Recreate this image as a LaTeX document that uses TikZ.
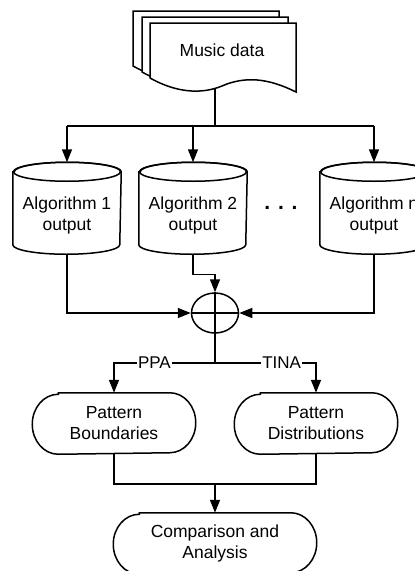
\documentclass[tikz,border=0pt]{standalone}
\usepackage{fontspec}
\setmainfont{Liberation Sans}
\usetikzlibrary{arrows.meta,shapes.geometric,calc}
\begin{document}
\begin{tikzpicture}[x=1pt,y=-1pt,
  line width=1.5pt,
  arr/.style={-{Triangle[length=13pt,width=10pt]}},
  txt/.style={font=\fontsize{17.5}{21}\selectfont, align=center},
  cyl/.style={txt, minimum width=107pt, minimum height=76pt, inner sep=0pt},
  term/.style={txt, minimum width=162pt, minimum height=60pt, inner sep=0pt},
  page/.style={draw, fill=white, line join=miter},
  lbl/.style={fill=white, inner sep=1pt, font=\fontsize{17}{20}\selectfont}]
\useasboundingbox (0,0) rectangle (415,571);
\clip (0,0) rectangle (415,571);
% multi-document
\foreach \dx/\dy in {-17/-12, -8/-6, 0/0} {
  \draw[page, shift={(\dx,\dy)}] (150,78) -- (150,23) -- (296,23) -- (296,92)
    .. controls (268,78) and (245,76) .. (222,86)
    .. controls (200,95) and (175,92) .. (150,78) -- cycle;
}
\node[txt] (md) at (222,50) {Music data};
\coordinate (mdb) at (215,88);
\coordinate (bus) at (215,126);
% cylinders (text sits in the body below the cap)
\node[cyl] (a1) at (67,215.5) {Algorithm 1\\output};
\node[cyl] (a2) at (193,215.5) {Algorithm 2\\output};
\node[cyl] (an) at (374,215.5) {Algorithm n\\output};
\foreach \n in {a1,a2,an}{
  \coordinate (\n top) at ([yshift=14.5pt]\n.north);
  \draw ([yshift=5pt]\n.north west) -- ([yshift=9.5pt]\n.south west)
    arc[start angle=180,end angle=360,x radius=53.5pt,y radius=9.5pt]
    -- ([yshift=5pt]\n.north east)
    arc[start angle=0,end angle=180,x radius=53.5pt,y radius=9.5pt] -- cycle;
  \draw ([yshift=5pt]\n.north) ellipse[x radius=53.5pt,y radius=9.5pt];
}
\node[font=\fontsize{21}{24}\selectfont\bfseries] (dots) at (281,208) {. . .};
\draw (mdb) -- (bus);
\draw (a1top |- bus) -- (antop |- bus);
\foreach \n in {a1,a2,an} \draw[arr] (\n top |- bus) -- (\n top);
% junction
\node[draw, ellipse, minimum width=47pt, minimum height=40pt, inner sep=0pt] (j) at (215,313) {};
\draw (j.north) -- (j.south) (j.west) -- (j.east);
\draw[arr] (a1.south) |- (j.west);
\draw[arr] (an.south) |- (j.east);
\draw[arr] (a2.south) -- ++(0,20) -| (j.north);
% pattern nodes
\coordinate (split) at (215,363);
\draw (j.south) -- (split);
\node[term] (pb) at (114,423.5) {Pattern\\Boundaries};
\node[term] (pd) at (316,423.5) {Pattern\\Distributions};
\node[term, minimum width=202pt] (ca) at (215,543.5) {Comparison and\\Analysis};
\foreach \n in {pb,pd,ca}{
  \draw ([xshift=26pt]\n.north west) -- ([xshift=-26pt]\n.north east)
    arc[start angle=90,end angle=-90,x radius=26pt,y radius=30pt]
    -- ([xshift=26pt]\n.south west)
    arc[start angle=270,end angle=90,x radius=26pt,y radius=30pt] -- cycle;
}
\draw[arr] (split) -| node[lbl,pos=0.3]{PPA} (pb.north);
\draw[arr] (split) -| node[lbl,pos=0.33]{TINA} (pd.north);
\coordinate (m) at (215,484);
\draw (pb.south) |- (m) -| (pd.south);
\draw[arr] (m) -- (ca.north);
\end{tikzpicture}
\end{document}
